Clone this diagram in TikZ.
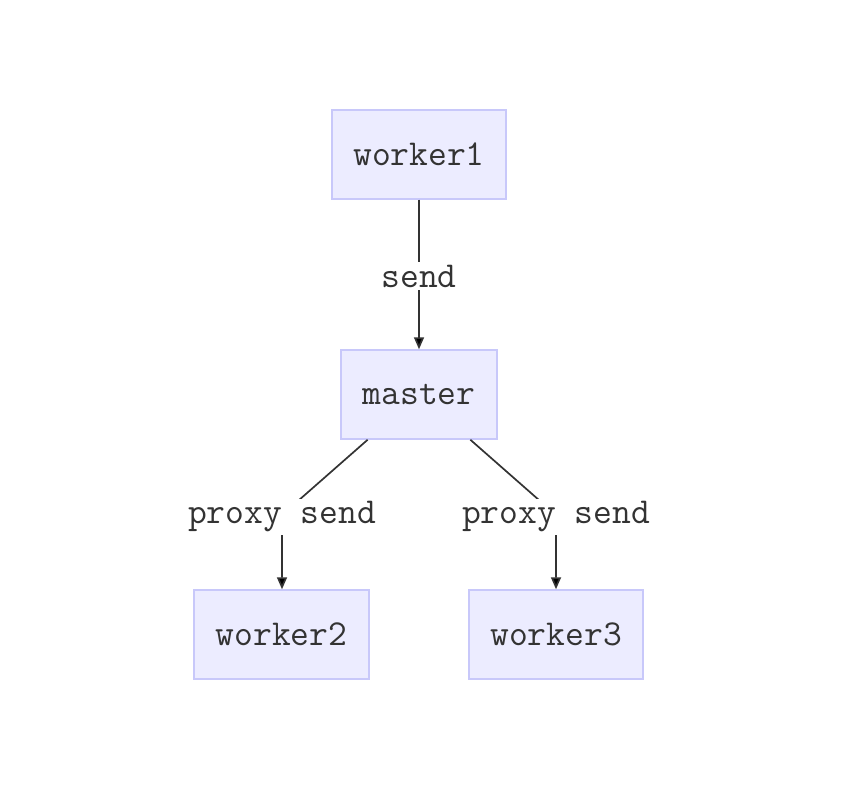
\documentclass[tikz,border=0pt]{standalone}
\usepackage{fontspec}
\usetikzlibrary{arrows.meta}
\definecolor{boxfill}{HTML}{ECECFF}
\definecolor{boxline}{HTML}{C8C8FA}
\definecolor{txt}{HTML}{333333}
\tikzset{
  box/.style={draw=boxline, fill=boxfill, line width=1.5pt, minimum height=89pt, font=\ttfamily\fontsize{36.5pt}{40pt}\selectfont, text=txt},
  elabel/.style={fill=white, inner xsep=2pt, inner ysep=3pt, yshift=-2pt, font=\ttfamily\fontsize{36.5pt}{40pt}\selectfont, text=txt},
  edge/.style={draw=txt, line width=1.7pt, -{Triangle[length=12pt,width=10pt,fill=black]}}
}
\begin{document}
\begin{tikzpicture}[x=1pt,y=-1pt]
\useasboundingbox (0,0) rectangle (864,810);
\node[box, minimum width=174pt] (worker1) at (419,154.5) {worker1};
\node[box, minimum width=156pt] (master) at (419,394.5) {master};
\node[box, minimum width=175pt] (worker2) at (281.5,634.5) {worker2};
\node[box, minimum width=174pt] (worker3) at (556,634.5) {worker3};
\coordinate (c1) at (419,274);
\coordinate (c2) at (282,515);
\coordinate (c3) at (556,515);
\draw[edge] (worker1) -- (c1) -- (master);
\draw[edge] (master) -- (c2) -- (worker2.north -| c2);
\draw[edge] (master) -- (c3) -- (worker3.north -| c3);
\node[elabel] (l1) at (c1) {send};
\node[elabel] (l2) at (c2) {proxy send};
\node[elabel] (l3) at (c3) {proxy send};
\end{tikzpicture}
\end{document}
